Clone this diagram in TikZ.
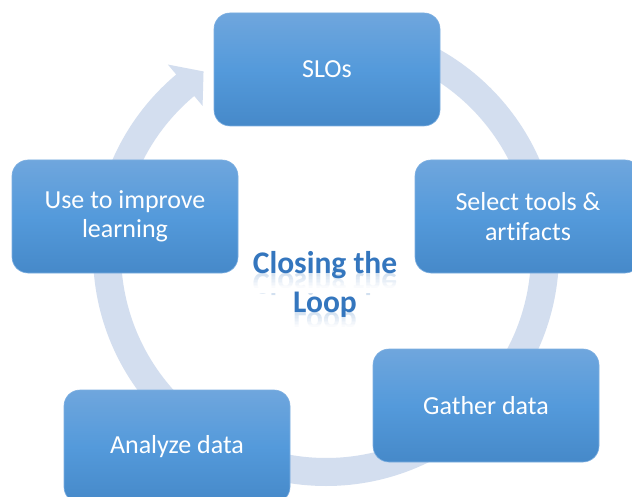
\documentclass[tikz,border=0pt]{standalone}
\usepackage{fontspec}
\setmainfont{Carlito}[Ligatures=NoCommon]
\definecolor{ringc}{RGB}{211,222,239}
\definecolor{btop}{RGB}{111,166,221}
\definecolor{bmid}{RGB}{84,154,219}
\definecolor{bbot}{RGB}{70,137,201}
\definecolor{bedge}{RGB}{125,175,225}
\definecolor{titleblue}{RGB}{52,118,190}
\begin{document}
\begin{tikzpicture}[x=1pt,y=-1pt,
  stepbox/.style={rectangle, rounded corners=16pt, minimum width=226pt, minimum height=113pt,
    top color=btop, bottom color=bbot, middle color=bmid, draw=bedge, line width=0.6pt,
    text=white, align=center, font=\fontsize{26}{29.5}\selectfont, inner sep=0pt},
  titletext/.style={text=titleblue, font=\bfseries\fontsize{31.5}{38}\selectfont, anchor=base, inner sep=0pt},
  refltext/.style={titletext, yscale=-1, opacity=0.22},
  ringarrow/.style={fill=ringc}
]
\useasboundingbox (0,0) rectangle (632,497);
\clip (0,0) rectangle (632,497);
\fill[white] (0,0) rectangle (632,497);
\begin{scope}[shift={(326,253)}, yscale=-1]
  \fill[ringarrow] (90:233) arc[start angle=90,end angle=-230,radius=233]
    -- (-230:246) -- (-236:219) -- (-230:192) -- (-230:205)
    arc[start angle=-230,end angle=90,radius=205] -- cycle;
\end{scope}
\node[stepbox] (slo) at (327,69.5) {SLOs};
\node[stepbox] (sel) at (528,216.5) {Select tools \&\\artifacts};
\node[stepbox] (gat) at (486,405.5) {Gather data};
\node[stepbox] (ana) at (177,446.5) {Analyze data};
\node[stepbox] (use) at (125,216.5) {Use to improve\\learning};
% title with reflections
\node[refltext] (t1r) at (325,273) {Closing the};
\foreach \i in {0,...,9} {
  \fill[white, opacity=0.1*\i+0.1] (240,274+1.5*\i) rectangle (410,275.5+1.5*\i);
}
\fill[white] (240,289) rectangle (410,293);
\node[titletext] (t1) at (325,273) {Closing the};
\node[refltext] (t2r) at (325,312) {Loop};
\foreach \i in {0,...,9} {
  \fill[white, opacity=0.1*\i+0.1] (280,313+1.5*\i) rectangle (370,314.5+1.5*\i);
}
\fill[white] (280,328) rectangle (370,340);
\node[titletext] (t2) at (325,312) {Loop};
\end{tikzpicture}
\end{document}
